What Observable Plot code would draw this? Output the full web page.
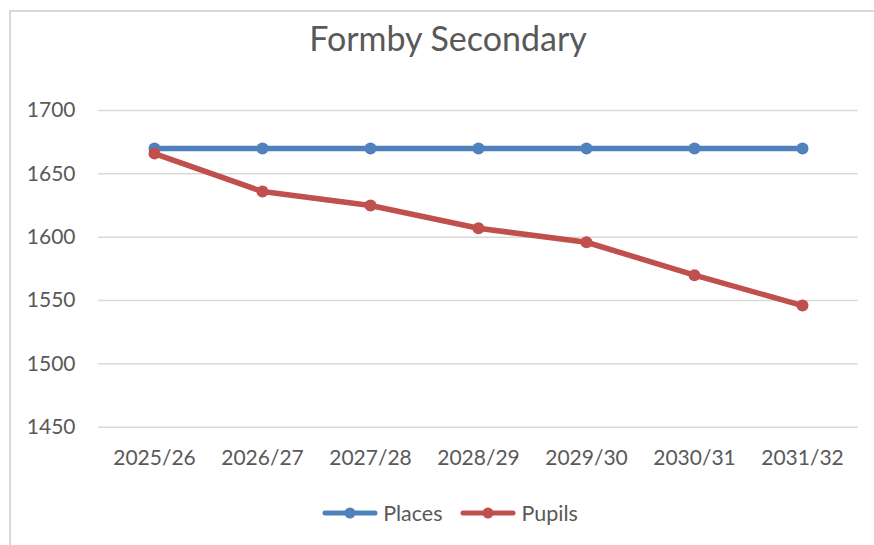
<!DOCTYPE html>
<html>
<head>
<meta charset="utf-8">
<script src="https://cdn.jsdelivr.net/npm/d3@7"></script>
<script src="https://cdn.jsdelivr.net/npm/@observablehq/plot@0.6"></script>
<style>
  html, body { margin: 0; padding: 0; background: #fff; }
  #wrap { position: relative; width: 874px; height: 545px; overflow: hidden; font-family: Lato, "Open Sans", sans-serif; }
  #frame { position: absolute; left: 9px; top: 10px; width: 900px; height: 600px; border: 2px solid #d9d9d9; box-sizing: border-box; }
  #title { position: absolute; left: 0; width: 896px; top: 21px; text-align: center; font-size: 34px; line-height: 34px; color: #595959; }
  #chart { position: absolute; left: 0; top: 80px; }
  #legend { position: absolute; top: 500px; left: 13px; width: 874px; display: flex; justify-content: center; align-items: center; font-size: 21.5px; color: #595959; }
  .item { display: flex; align-items: center; margin: 0 9px; }
  .item svg { margin-right: 5px; }
</style>
</head>
<body>
<div id="wrap">
  <div id="frame"></div>
  <div id="title">Formby Secondary</div>
  <div id="chart"></div>
  <div id="legend"></div>
</div>
<script>
const years = ["2025/26", "2026/27", "2027/28", "2028/29", "2029/30", "2030/31", "2031/32"];
const places = [1670, 1670, 1670, 1670, 1670, 1670, 1670];
const pupils = [1666, 1636, 1625, 1607, 1596, 1570, 1546];
const seriesNames = ["Places", "Pupils"];
const seriesColors = ["#4F81BD", "#C0504D"];
const yTicks = [1450, 1500, 1550, 1600, 1650, 1700];

const rows = [];
years.forEach((y, i) => rows.push({year: y, value: places[i], series: "Places"}));
years.forEach((y, i) => rows.push({year: y, value: pupils[i], series: "Pupils"}));

const chart = Plot.plot({
  width: 874,
  height: 400,
  marginTop: 30,
  marginBottom: 53.3,
  marginLeft: 98,
  marginRight: 16.3,
  style: {fontFamily: "Lato, 'Open Sans', sans-serif", fontSize: "21px", color: "#595959", background: "transparent"},
  x: {type: "point", domain: years, padding: 0.5, label: null},
  y: {domain: [1450, 1700], label: null},
  color: {domain: seriesNames, range: seriesColors},
  marks: [
    Plot.gridY(yTicks, {stroke: "#d9d9d9", strokeOpacity: 1, strokeWidth: 1.5}),
    Plot.axisY(yTicks, {tickSize: 0, tickPadding: 23, tickFormat: d => String(d), fill: "#595959", fontSize: 21, label: null}),
    Plot.axisX({tickSize: 0, tickPadding: 23, fill: "#595959", fontSize: 21, label: null}),
    Plot.line(rows, {x: "year", y: "value", z: "series", stroke: "series", strokeWidth: 5.5, strokeLinejoin: "round", strokeLinecap: "round"}),
    Plot.dot(rows, {x: "year", y: "value", fill: "series", r: 6, stroke: null})
  ]
});
document.getElementById("chart").appendChild(chart);

const legend = document.getElementById("legend");
seriesNames.forEach((name, i) => {
  const item = document.createElement("div");
  item.className = "item";
  item.innerHTML = `<svg width="56" height="14"><line x1="3" y1="7" x2="53" y2="7" stroke="${seriesColors[i]}" stroke-width="5" stroke-linecap="round"/><circle cx="28" cy="7" r="5.5" fill="${seriesColors[i]}"/></svg><span>${name}</span>`;
  legend.appendChild(item);
});
</script>
</body>
</html>
